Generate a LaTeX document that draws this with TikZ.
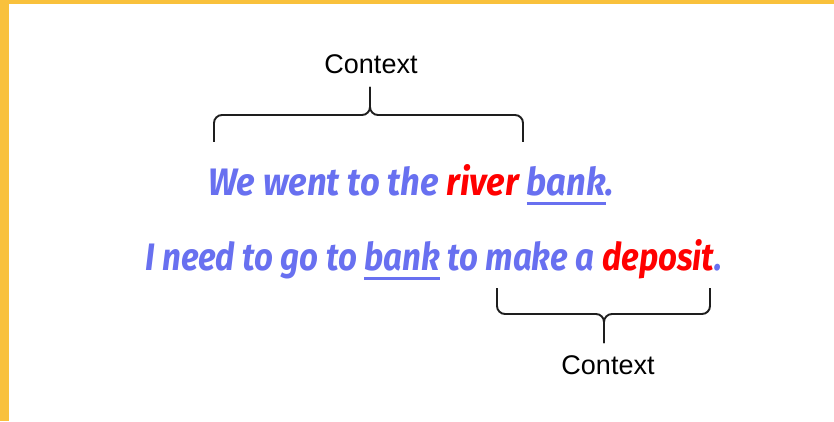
\documentclass[tikz,border=0pt]{standalone}
\usepackage{fontspec}
\setmainfont{Liberation Sans}
\newfontfamily\handfont{Fira Sans}
\usepackage{graphicx}
\definecolor{framecol}{RGB}{249,193,60}
\definecolor{ink}{RGB}{104,112,240}
\definecolor{hot}{RGB}{255,0,0}
\definecolor{bracecol}{RGB}{30,30,30}
\newsavebox\ulbox
% underlined word: rule drawn a little below the baseline
\newcommand\ulword[1]{\sbox\ulbox{#1}\rlap{\rule[-0.25em]{\wd\ulbox}{0.08em}}\usebox\ulbox}
\begin{document}
\begin{tikzpicture}[x=1pt,y=1pt,
  sentence/.style={inner sep=0pt, anchor=base west, text=ink},
  ctx/.style={inner sep=0pt, anchor=base, font=\fontsize{27}{30}\selectfont, text=black},
  bracket/.style={draw=bracecol, line width=1.9pt, rounded corners=8pt}]
  \useasboundingbox (0,0) rectangle (834,421);
  \fill[white] (0,0) rectangle (834,421);
  % frame strips along the left and top edges
  \fill[framecol] (0,0) rectangle (9,421);
  \fill[framecol] (0,417) rectangle (834,421);

  % sentences
  \node[sentence] (s1) at (208,226)
    {\resizebox{406pt}{31pt}{\handfont\bfseries\itshape We went to the \textcolor{hot}{river} \ulword{bank}.}};
  \node[sentence] (s2) at (145,151)
    {\resizebox{577pt}{31pt}{\handfont\bfseries\itshape I need to go to \ulword{bank} to make a \textcolor{hot}{deposit}.}};

  % labels
  \node[ctx] (c1) at (371,347) {Context};
  \node[ctx] (c2) at (608,47) {Context};

  % upper brace
  \coordinate (tl) at (214,279);
  \coordinate (tr) at (523,279);
  \coordinate (tm) at (370,306);
  \coordinate (tt) at (370,334);
  \draw[bracket] (tl) |- (tm) -- (tt);
  \draw[bracket] (tr) |- (tm) -- (tt);

  % lower brace
  \coordinate (bl) at (497,133);
  \coordinate (br) at (710,133);
  \coordinate (bm) at (604,107);
  \coordinate (bt) at (604,78);
  \draw[bracket] (bl) |- (bm) -- (bt);
  \draw[bracket] (br) |- (bm) -- (bt);
\end{tikzpicture}
\end{document}
